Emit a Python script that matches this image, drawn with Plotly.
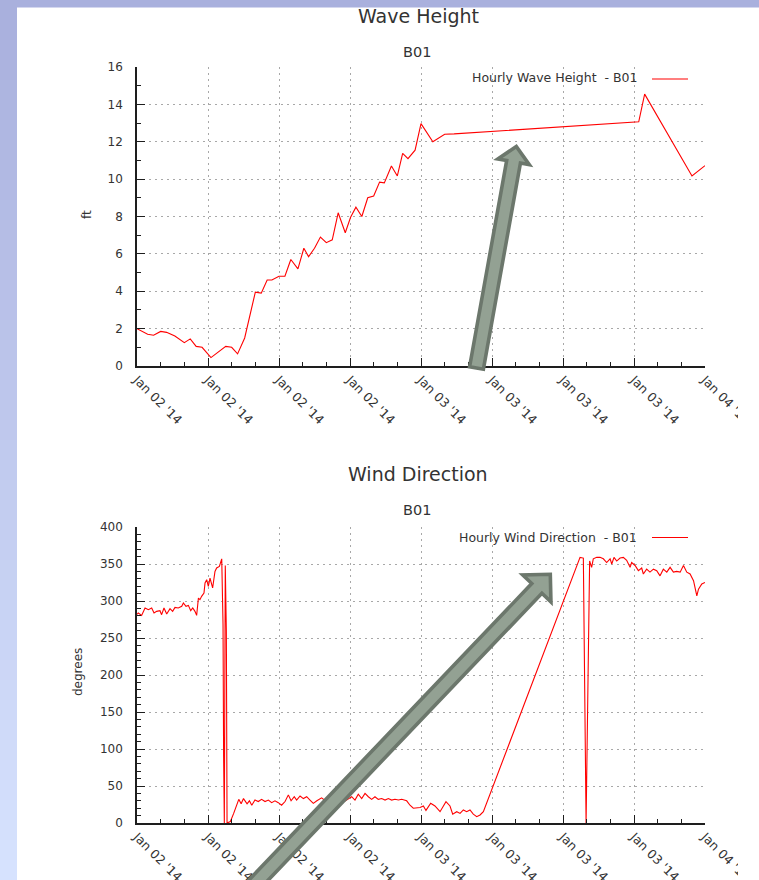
import math
import pandas as pd
import plotly.graph_objects as go

W, H = 759, 880

# ---------------- data (hours after 2014-01-02 00:00) ----------------
wave_hours = [0.0, 0.9, 1.4, 2.0, 2.5, 3.2, 4.0, 4.5, 5.0, 5.5, 6.25, 6.8, 7.5, 8.0, 8.5, 9.1,
              10.0, 10.5, 11.0, 11.4, 12.0, 12.5, 13.0, 13.6, 14.1, 14.5, 15.0, 15.5, 16.0, 16.5,
              17.0, 17.6, 18.05, 18.5, 19.0, 19.5, 20.0, 20.5, 20.9, 21.5, 22.0, 22.45, 22.9, 23.5,
              24.0, 25.0, 26.0, 26.8, 42.4, 42.9, 46.9, 48.0]
wave_ft = [2.0, 1.7, 1.65, 1.85, 1.8, 1.6, 1.25, 1.45, 1.05, 1.0, 0.45, 0.7, 1.05, 1.0, 0.65, 1.5,
           3.95, 3.9, 4.6, 4.6, 4.8, 4.8, 5.7, 5.2, 6.3, 5.85, 6.3, 6.9, 6.6, 6.75,
           8.2, 7.13, 7.96, 8.5, 8.0, 9.0, 9.1, 9.84, 9.8, 10.7, 10.17, 11.38, 11.1, 11.55,
           12.97, 12.0, 12.4, 12.42, 13.07, 14.55, 10.17, 10.72]

wind_hours = [0.0, 0.11, 0.39, 0.68, 0.96, 1.24, 1.44, 1.66, 1.94, 2.08, 2.28, 2.51, 2.79, 3.01,
              3.21, 3.49, 3.78, 3.92, 4.14, 4.34, 4.54, 4.71, 4.9, 5.04, 5.19, 5.32, 5.46, 5.66,
              5.75, 5.89, 6.03, 6.17, 6.39, 6.59, 6.73, 6.96, 7.16,
              7.27, 7.32, 7.38, 7.46, 7.55, 7.61,
              7.89, 8.17, 8.45, 8.6, 8.8, 9.0, 9.3, 9.5, 9.7, 9.97, 10.25, 10.53, 10.82, 11.1,
              11.38, 11.66, 11.94, 12.22, 12.51, 12.79, 13.02, 13.29, 13.49, 13.78, 14.06, 14.34,
              14.62, 14.9, 15.2, 15.6, 16.0, 16.4, 16.8, 17.2, 17.6, 17.9, 18.14, 18.42, 18.7,
              18.99, 19.27, 19.55, 19.83, 20.11, 20.39, 20.68, 20.96, 21.24, 21.52, 21.8, 22.09,
              22.37, 22.79, 23.07, 23.35, 23.92, 24.2, 24.42, 24.82, 25.18, 25.61, 26.11, 26.45,
              26.68, 27.02, 27.3, 27.58, 27.86, 28.14, 28.42, 28.71, 28.99, 29.27,
              37.44, 37.72, 37.95, 38.25, 38.42, 38.56, 38.85, 39.13, 39.41, 39.69, 39.98, 40.12,
              40.31, 40.54, 40.82, 41.1, 41.38, 41.67, 41.8, 42.09, 42.37, 42.65, 42.79, 43.07,
              43.35, 43.64, 43.92, 44.2, 44.48, 44.77, 45.05, 45.33, 45.61, 45.9, 46.18, 46.46,
              46.74, 47.03, 47.31, 47.45, 47.73, 48.0]
wind_deg = [282, 283.8, 280.6, 290.5, 288.3, 290.5, 283.8, 286, 286.9, 281.5, 290.5, 282.4, 289.6, 286,
            291.4, 290.5, 292.8, 297.3, 292.8, 294.1, 286.9, 290.5, 286, 280.6, 304, 301.8, 306.3, 310.8,
            324.3, 328.8, 319.8, 331, 317.6, 340, 344.6, 346.8, 357,
            268, 90, 0, 348, 260, 0,
            2, 13, 26, 32, 26, 33, 26, 30, 24, 31, 29, 32, 29, 31,
            27.5, 30, 27.5, 24, 29, 38, 30, 35.5, 31, 36.5, 33, 35.5,
            31, 26.5, 30, 34, 29, 33, 31, 35, 30, 33, 35.5, 31, 39,
            33, 40, 35.5, 32, 35.5, 32, 33, 31, 33, 31, 32, 31,
            32, 30, 24, 20, 21, 23, 17, 26.6, 23, 15.3, 28.8, 23,
            12, 15.3, 13, 17.6, 15.3, 17.6, 12, 8.6, 10.8, 15.3,
            359, 358, 0, 354, 345.5, 357, 359, 359, 357, 352, 357, 350,
            359, 354, 358, 359, 355, 345.5, 352, 348, 341, 344.6, 336.5, 343,
            339, 343, 341, 334, 343, 339, 345.5, 339, 340, 339, 348, 339,
            336.5, 327.5, 307, 316, 323, 325]

x_start, x_end = "2014-01-02 00:00", "2014-01-04 00:00"
base = pd.Timestamp("2014-01-02")
wave_time = [base + pd.Timedelta(hours=h) for h in wave_hours]
wind_time = [base + pd.Timedelta(hours=h) for h in wind_hours]

# ---------------- helpers ----------------
def px(x):
    return x / W

def py(y):
    return 1 - y / H

FONT = "DejaVu Sans"
TXT = "#333333"
AX = "#1e1e1e"
GRID = "#a8a8a8"

fig = go.Figure()
fig.add_trace(go.Scatter(x=wave_time, y=wave_ft, mode="lines", xaxis="x", yaxis="y",
                         line=dict(color="#ff0000", width=1.1), showlegend=False))
fig.add_trace(go.Scatter(x=wind_time, y=wind_deg, mode="lines", xaxis="x2", yaxis="y2",
                         line=dict(color="#ff0000", width=1.1), showlegend=False))

xdom = [px(137), px(705)]

def xaxis_cfg(anchor):
    return dict(domain=xdom, anchor=anchor, type="date", range=[x_start, x_end],
                tick0=x_start, dtick=6 * 3600 * 1000, tickformat="%b %d '%y", tickangle=45,
                ticks="inside", ticklen=8, tickwidth=1, tickcolor=AX,
                showline=True, linecolor=AX, linewidth=1.6, mirror=False,
                showgrid=True, gridcolor=GRID, gridwidth=1, griddash="2px,4px",
                zeroline=False, tickfont=dict(family=FONT, size=12.5, color=TXT),
                minor=dict(tick0=x_start, dtick=2 * 3600 * 1000, ticks="inside", ticklen=4,
                           tickwidth=1, tickcolor=AX, showgrid=False))

def yaxis_cfg(anchor, dom, rng, dt, mdt):
    return dict(domain=dom, anchor=anchor, range=rng, dtick=dt, tick0=0,
                ticks="inside", ticklen=8, tickwidth=1, tickcolor=AX,
                showline=True, linecolor=AX, linewidth=1.6, mirror=False,
                showgrid=True, gridcolor=GRID, gridwidth=1, griddash="2px,4px",
                zeroline=False, tickfont=dict(family=FONT, size=12, color=TXT),
                ticklabelstandoff=10,
                minor=dict(dtick=mdt, tick0=0, ticks="inside", ticklen=4, tickwidth=1,
                           tickcolor=AX, showgrid=False))

fig.update_layout(
    width=W, height=H, margin=dict(l=0, r=0, t=0, b=0),
    paper_bgcolor="white", plot_bgcolor="white", template="none",
    xaxis=xaxis_cfg("y"),
    yaxis=yaxis_cfg("x", [py(366), py(67)], [0, 16], 2, 1),
    xaxis2=xaxis_cfg("y2"),
    yaxis2=yaxis_cfg("x2", [py(823), py(527)], [0, 400], 50, 10),
    showlegend=False,
)

# ---------------- page background (sidebar gradient + top band) ----------------
shapes = []
c0 = (169, 176, 221)
c1 = (214, 226, 254)
n = 44
for i in range(n):
    t = i / (n - 1)
    col = "rgb(%d,%d,%d)" % tuple(round(a + (b - a) * t) for a, b in zip(c0, c1))
    shapes.append(dict(type="rect", xref="paper", yref="paper", layer="below",
                       x0=0, x1=px(17), y0=py(i * H / n), y1=py((i + 1) * H / n + 1),
                       fillcolor=col, line=dict(width=0)))
shapes.append(dict(type="rect", xref="paper", yref="paper", layer="below",
                   x0=0, x1=1, y0=py(7.5), y1=1, fillcolor="rgb(169,176,221)", line=dict(width=0)))

# the chart images end at x ~738: their last tick label is clipped there
for y0_, y1_ in ((368, 460), (826, 880)):
    shapes.append(dict(type="rect", xref="paper", yref="paper", layer="above",
                       x0=px(738), x1=1, y0=py(y1_), y1=py(y0_),
                       fillcolor="white", line=dict(width=0)))

# ---------------- custom legends ----------------
for ly in (79, 537.5):
    shapes.append(dict(type="line", xref="paper", yref="paper", x0=px(652), x1=px(688),
                       y0=py(ly), y1=py(ly), line=dict(color="#ff0000", width=1.1)))

# ---------------- arrows ----------------
def arrow_path(tail, tip, shaft_w, head_w, head_len):
    (x0, y0), (x1, y1) = tail, tip
    dx, dy = x1 - x0, y1 - y0
    L = math.hypot(dx, dy)
    ux, uy = dx / L, dy / L
    nx, ny = -uy, ux
    bx, by = x1 - ux * head_len, y1 - uy * head_len
    s = shaft_w / 2
    pts = [(x0 + nx * s, y0 + ny * s), (bx + nx * s, by + ny * s),
           (bx + nx * head_w, by + ny * head_w), (x1, y1),
           (bx - nx * head_w, by - ny * head_w), (bx - nx * s, by - ny * s),
           (x0 - nx * s, y0 - ny * s)]
    return "M " + " L ".join("%.5f,%.5f" % (px(a), py(b)) for a, b in pts) + " Z"

ARROW_DARK = "#6c776c"
ARROW_LIGHT = "#93a193"
for tail, tip, hw, hl in [((476.5, 368), (516.3, 146.5), 16, 15.5),
                          ((230, 910), (550.3, 574.3), 19.5, 19.5)]:
    shapes.append(dict(type="path", xref="paper", yref="paper", layer="above",
                       path=arrow_path(tail, tip, 14, hw, hl),
                       fillcolor=ARROW_LIGHT, line=dict(color=ARROW_DARK, width=3.6)))

fig.update_layout(shapes=shapes)

# ---------------- text ----------------
ann = []
def text(x, y, s, size, angle=0, xanchor="center"):
    ann.append(dict(x=px(x), y=py(y), xref="paper", yref="paper", text=s, showarrow=False,
                    xanchor=xanchor, yanchor="middle", textangle=angle,
                    font=dict(family=FONT, size=size, color=TXT)))

text(418, 16, "Wave Height", 19)
text(417, 52, "B01", 14.5)
text(418, 474, "Wind Direction", 19)
text(417, 510, "B01", 14.5)
text(639, 78, "Hourly Wave Height  - B01", 12.5, xanchor="right")
text(639, 537, "Hourly Wind Direction  - B01", 12.5, xanchor="right")
text(87, 215, "ft", 12, angle=-90)
text(78, 672, "degrees", 12, angle=-90)
fig.update_layout(annotations=ann)

fig.write_html("out.html")
